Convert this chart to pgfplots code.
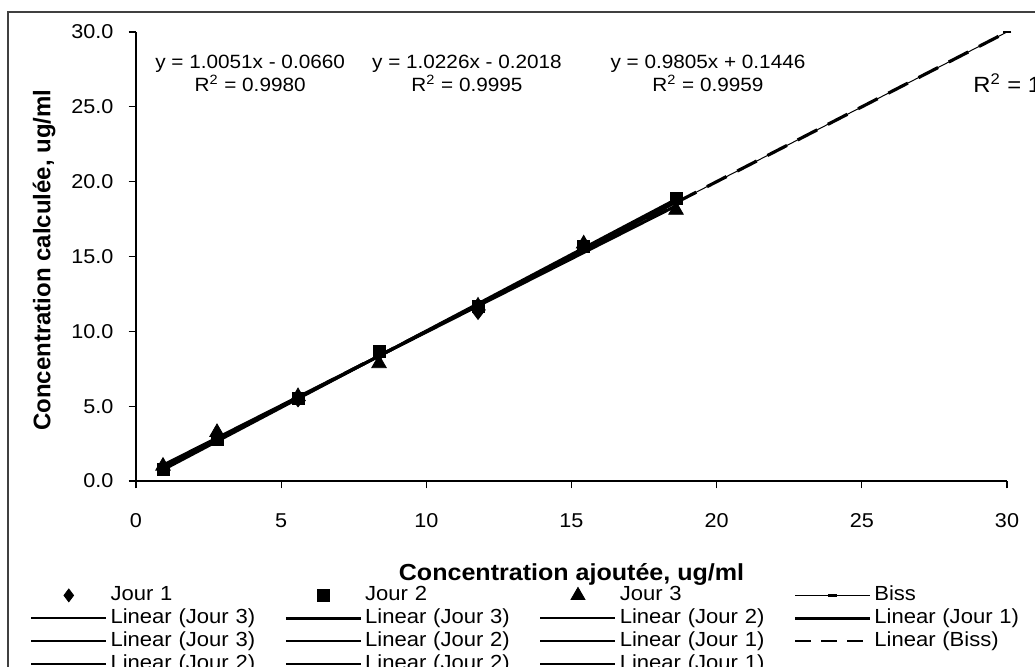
\documentclass[border=0pt]{standalone}
\usepackage{fontspec}
\setmainfont{Liberation Sans}[FakeStretch=1.08]
\newfontfamily\ylabfont{Liberation Sans}
\usepackage{pgfplots}
\pgfplotsset{compat=1.18}

\pgfplotstableread{
x y
0.93 0.87
2.79 2.85
5.58 5.41
8.37 8.45
11.78 11.25
15.42 15.75
18.60 18.70
}\jourA
\pgfplotstableread{
x y
0.93 0.80
2.79 2.75
5.58 5.55
8.37 8.65
11.78 11.65
15.42 15.65
18.60 18.85
}\jourB
\pgfplotstableread{
x y
0.93 1.00
2.79 3.25
5.58 5.65
8.37 7.85
11.78 11.70
15.42 15.85
18.60 18.10
}\jourC
\pgfplotstableread{
x y
0.93 0.93
2.79 2.79
5.58 5.58
8.37 8.37
11.78 11.78
15.42 15.42
18.60 18.60
30.00 30.00
}\biss

\begin{document}
\begin{tikzpicture}
\begin{axis}[
  at={(68pt,-240.5pt)}, anchor=south west,
  scale only axis, width=435.5pt, height=224.5pt,
  xmin=0, xmax=30, ymin=0, ymax=30,
  clip=false,
  axis lines*=left,
  axis line style={line width=0.6pt, black},
  xtick={0,5,...,30}, ytick={0,5,...,30},
  tick align=outside, major tick length=3.75pt,
  tick style={black, line width=0.6pt},
  /pgf/number format/assume math mode=true,
  tick label style={font=\fontsize{10}{12}\selectfont},
  x tick label style={yshift=-9pt},
  y tick label style={xshift=-4pt, /pgf/number format/.cd, fixed, fixed zerofill, precision=1, /tikz/.cd},
  xlabel={\bfseries Concentration ajoutée, ug/ml},
  xlabel style={at={(axis description cs:0.5,-0.2071)}, anchor=center, font=\fontsize{11.6}{14}\selectfont},
  ylabel={\ylabfont\bfseries Concentration calculée, ug/ml},
  ylabel style={at={(axis description cs:-0.1056,0.492)}, anchor=center, font=\fontsize{12}{14}\selectfont},
  legend columns=4,
  legend cell align=left,
  legend image code/.code={\draw[mark repeat=2,mark phase=2,#1] plot coordinates {(0pt,0pt) (18.75pt,0pt) (37.5pt,0pt)};},
  legend style={at={(axis description cs:-0.1217,-0.2339)}, anchor=north west,
    draw=none, fill=none, inner sep=0pt, outer sep=0pt,
    font=\fontsize{10.2}{11}\selectfont, row sep=2pt,
    nodes={inner sep=0pt, text height=7.4pt, text depth=2pt, text width=87pt},
    /tikz/every odd column/.style={column sep=1.5pt},
    /tikz/every even column/.style={column sep=0pt}},
]
% trendlines
\addplot[forget plot, black, line width=1.5pt] coordinates {(0.93,0.869) (18.6,18.629)};
\addplot[forget plot, black, line width=1.5pt] coordinates {(0.93,0.749) (18.6,18.819)};
\addplot[forget plot, black, line width=1.5pt] coordinates {(0.93,1.056) (18.6,18.382)};
% bissectrice
\addplot[forget plot, black, line width=0.5pt, mark=-, mark size=2.2pt, mark options={line width=1.3pt}] table {\biss};
\addplot[forget plot, black, line width=1.6pt, dash pattern=on 11pt off 6pt] coordinates {(0.93,0.93) (30,30)};
% data
\addplot[forget plot, only marks, black, mark=diamond*, mark size=3.4pt] table {\jourA};
\addplot[forget plot, only marks, black, mark=square*, mark size=3pt] table {\jourB};
\addplot[forget plot, only marks, black, mark=triangle*, mark size=4.2pt] table {\jourC};

% legend
\addlegendimage{only marks, black, mark=diamond*, mark size=3.2pt}
\addlegendentry{Jour 1}
\addlegendimage{only marks, black, mark=square*, mark size=3pt}
\addlegendentry{Jour 2}
\addlegendimage{only marks, black, mark=triangle*, mark size=4pt}
\addlegendentry{Jour 3}
\addlegendimage{black, line width=0.5pt, mark=-, mark size=2.2pt, mark options={line width=1.3pt}}
\addlegendentry{Biss}
\addlegendimage{black, line width=0.8pt}
\addlegendentry{Linear (Jour 3)}
\addlegendimage{black, line width=1.3pt}
\addlegendentry{Linear (Jour 3)}
\addlegendimage{black, line width=0.8pt}
\addlegendentry{Linear (Jour 2)}
\addlegendimage{black, line width=1.3pt}
\addlegendentry{Linear (Jour 1)}
\addlegendimage{black, line width=1.3pt}
\addlegendentry{Linear (Jour 3)}
\addlegendimage{black, line width=0.8pt}
\addlegendentry{Linear (Jour 2)}
\addlegendimage{black, line width=1.3pt}
\addlegendentry{Linear (Jour 1)}
\addlegendimage{black, line width=1.3pt, dash pattern=on 8pt off 5pt}
\addlegendentry{Linear (Biss)}
\addlegendimage{black, line width=1.3pt}
\addlegendentry{Linear (Jour 2)}
\addlegendimage{black, line width=1.3pt}
\addlegendentry{Linear (Jour 2)}
\addlegendimage{black, line width=1.3pt}
\addlegendentry{Linear (Jour 1)}

% equations
\node[align=center, font=\fontsize{9.6}{11.5}\selectfont] at (axis cs:3.93,27.25) {y = 1.0051x - 0.0660\\R\textsuperscript{2} = 0.9980};
\node[align=center, font=\fontsize{9.6}{11.5}\selectfont] at (axis cs:11.4,27.25) {y = 1.0226x - 0.2018\\R\textsuperscript{2} = 0.9995};
\node[align=center, font=\fontsize{9.6}{11.5}\selectfont] at (axis cs:19.7,27.25) {y = 0.9805x + 0.1446\\R\textsuperscript{2} = 0.9959};
\node[anchor=west, font=\fontsize{11}{12}\selectfont] at (axis cs:28.6,26.6) {R\textsuperscript{2} = 1};
\end{axis}
\draw[black!75, line width=0.6pt] (4pt,-333.5pt) -- (4pt,-6pt) -- (517.5pt,-6pt);
\pgfresetboundingbox
\useasboundingbox (0pt,0pt) rectangle (517.5pt,-333.5pt);
\end{tikzpicture}
\end{document}
